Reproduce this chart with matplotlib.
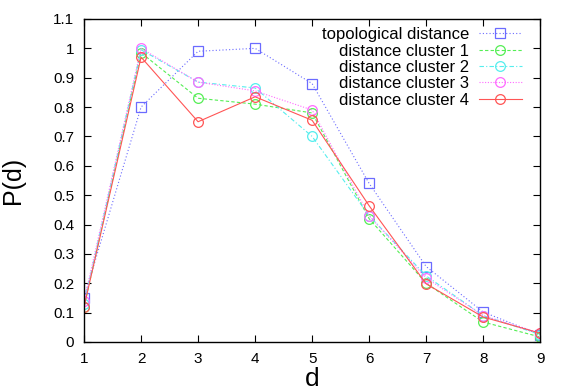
import matplotlib
matplotlib.use('Agg')
import matplotlib.pyplot as plt
import numpy as np

plt.rcParams['font.family'] = ['Liberation Sans', 'DejaVu Sans']

#-------------------------------------------------------------------------
# Data
#-------------------------------------------------------------------------
d = [1, 2, 3, 4, 5, 6, 7, 8, 9]
topo = [0.15, 0.80, 0.99, 1.00, 0.88, 0.54, 0.257, 0.102, 0.025]
clu1 = [0.12, 0.985, 0.83, 0.81, 0.78, 0.42, 0.20, 0.068, 0.017]
clu2 = [0.13, 0.995, 0.885, 0.865, 0.70, 0.43, 0.225, 0.09, 0.025]
clu3 = [0.14, 1.00, 0.885, 0.855, 0.79, 0.43, 0.218, 0.09, 0.03]
clu4 = [0.12, 0.97, 0.75, 0.835, 0.755, 0.464, 0.198, 0.085, 0.03]
labels = ['topological distance', 'distance cluster 1', 'distance cluster 2',
          'distance cluster 3', 'distance cluster 4']
xticks = [1, 2, 3, 4, 5, 6, 7, 8, 9]
yticks = [0, 0.1, 0.2, 0.3, 0.4, 0.5, 0.6, 0.7, 0.8, 0.9, 1, 1.1]
yticklabels = ['0', '0.1', '0.2', '0.3', '0.4', '0.5', '0.6', '0.7', '0.8', '0.9', '1', '1.1']

#-------------------------------------------------------------------------
# Plot
#-------------------------------------------------------------------------
fig = plt.figure(figsize=(5.68, 3.92), dpi=100)
ax = fig.add_axes([0.148, 0.1276, 0.803, 0.824])

lw = 0.8
ms = 7
ax.plot(d, topo, c='#6b6bff', ls=(0, (1, 2)), lw=lw, marker='s', ms=ms-0.5,
        mfc='none', mec='#6b6bff', mew=0.9, label=labels[0])
ax.plot(d, clu1, c='#55ee55', ls=(0, (3, 2)), lw=lw, marker='o', ms=ms,
        mfc='none', mec='#55ee55', mew=0.9, label=labels[1])
ax.plot(d, clu2, c='#55eeee', ls=(0, (4, 2, 1, 2)), lw=lw, marker='o', ms=ms,
        mfc='none', mec='#55eeee', mew=0.9, label=labels[2])
ax.plot(d, clu3, c='#ff6bff', ls=(0, (1, 1.5)), lw=lw, marker='o', ms=ms,
        mfc='none', mec='#ff6bff', mew=0.9, label=labels[3])
ax.plot(d, clu4, c='#ff5555', ls='-', lw=lw, marker='o', ms=ms,
        mfc='none', mec='#ff5555', mew=0.9, label=labels[4])

ax.set_xlim(1, 9)
ax.set_ylim(0, 1.1)
ax.set_xticks(xticks)
ax.set_yticks(yticks)
ax.set_yticklabels(yticklabels)
ax.tick_params(direction='in', top=True, right=True, length=5, width=0.8,
               labelsize=11, pad=7)
for s in ax.spines.values():
    s.set_linewidth(1.0)

ax.set_xlabel('d', fontsize=19, labelpad=1)
ax.set_ylabel('P(d)', fontsize=18, labelpad=20)

ax.legend(loc='upper right', frameon=False, markerfirst=False, fontsize=12,
          handlelength=2.6, labelspacing=0.08, borderaxespad=0.0,
          handletextpad=0.6, bbox_to_anchor=(0.975, 0.995))

fig.savefig('out.png', dpi=100)
